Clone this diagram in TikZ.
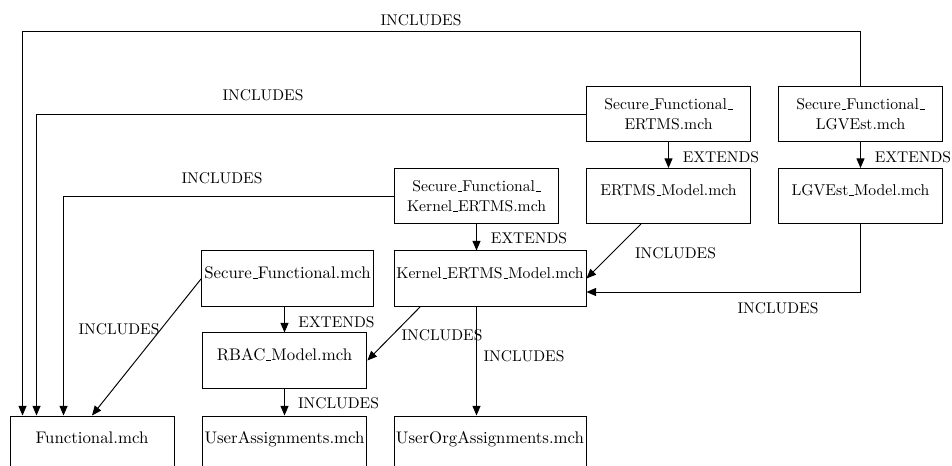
\documentclass[tikz,border=0pt]{standalone}
\usepackage{fontspec}
\setmainfont{Latin Modern Roman}
\usetikzlibrary{arrows.meta,calc}
\newcommand\us{\leavevmode\kern.06em\vbox{\hrule width.3em}}
\tikzset{
  mbox/.style={draw, line width=0.6pt, inner sep=0pt, minimum height=34.4pt, align=center,
    font=\fontsize{9.8}{12.5}\selectfont},
  onebox/.style={mbox, text height=17.2pt, text depth=17.2pt},
  bigbox/.style={onebox, font=\fontsize{10.5}{12.5}\selectfont},
  lbl/.style={font=\fontsize{9.7}{11}\selectfont, inner sep=1pt},
  conn/.style={line width=0.6pt, -{Triangle[length=6pt,width=5pt]}},
}
\begin{document}
\begin{tikzpicture}[x=0.625pt,y=-0.625pt]
\clip (0,0) rectangle (952,466);
\useasboundingbox (0,0) rectangle (952,466);
% nodes
\node[mbox, minimum width=103pt] (SFE) at (668.5,114) {Secure\us Functional\us\\ERTMS.mch};
\node[mbox, minimum width=103pt] (SFL) at (860.5,114) {Secure\us Functional\us\\LGVEst.mch};
\node[onebox, minimum width=103pt] (EM) at (668.5,196) {ERTMS\us Model.mch};
\node[onebox, minimum width=103pt] (LM) at (860.5,196) {LGVEst\us Model.mch};
\node[mbox, minimum width=103pt] (SFK) at (476.5,196) {Secure\us Functional\us\\Kernel\us ERTMS.mch};
\node[onebox, minimum width=120pt] (KEM) at (490,278.5) {Kernel\us ERTMS\us Model.mch};
\node[bigbox, minimum width=107pt] (SF) at (287.5,278.5) {Secure\us Functional.mch};
\node[bigbox, minimum width=103pt] (RBAC) at (284.5,360.5) {RBAC\us Model.mch};
\node[bigbox, minimum width=103pt] (UA) at (284.5,443.5) {UserAssignments.mch};
\node[bigbox, minimum width=120pt] (UOA) at (490,443.5) {UserOrgAssignments.mch};
\node[bigbox, minimum width=102.5pt] (F) at (92,443.5) {Functional.mch};
% connectors
\coordinate (topc) at ($(SFL.north)+(0,-55)$);
\draw[conn] (SFL.north) -- (topc) -| ($(F.north west)+(13,0)$);
\draw[conn] (SFE.west) -| ($(F.north west)+(27,0)$);
\draw[conn] (SFK.west) -| ($(F.north west)+(54,0)$);
\draw[conn] (SF.west) -- (F.north);
\draw[conn] (SFE.south) -- (EM.north);
\draw[conn] (SFL.south) -- (LM.north);
\draw[conn] (SFK.south) -- (SFK.south |- KEM.north);
\draw[conn] ($(EM.south)+(-27.5,0)$) -- (KEM.east);
\coordinate (lmk) at ($(KEM.east)+(0,13.5)$);
\draw[conn] (LM.south) |- (lmk);
\draw[conn] (RBAC.north |- SF.south) -- (RBAC.north);
\draw[conn] (RBAC.south) -- (UA.north);
\draw[conn] ($(KEM.south west)+(27,0)$) -- (RBAC.east);
\draw[conn] (SFK.south |- KEM.south) -- (SFK.south |- UOA.north);
% labels
\node[lbl] (l1) at (421,20) {INCLUDES};
\node[lbl] (l2) at (263,95) {INCLUDES};
\node[lbl] (l3) at (222,178) {INCLUDES};
\node[lbl] (l4) at (119,329) {INCLUDES};
\node[lbl] (l5) at (336.5,322) {EXTENDS};
\node[lbl] (l6) at (338.5,403) {INCLUDES};
\node[lbl] (l7) at (442,335) {INCLUDES};
\node[lbl] (l8) at (524,356) {INCLUDES};
\node[lbl] (l9) at (529,238) {EXTENDS};
\node[lbl] (l10) at (675.5,253) {INCLUDES};
\node[lbl] (l11) at (778,308) {INCLUDES};
\node[lbl] (l12) at (721,157) {EXTENDS};
\node[lbl] (l13) at (913,157) {EXTENDS};
\end{tikzpicture}
\end{document}
